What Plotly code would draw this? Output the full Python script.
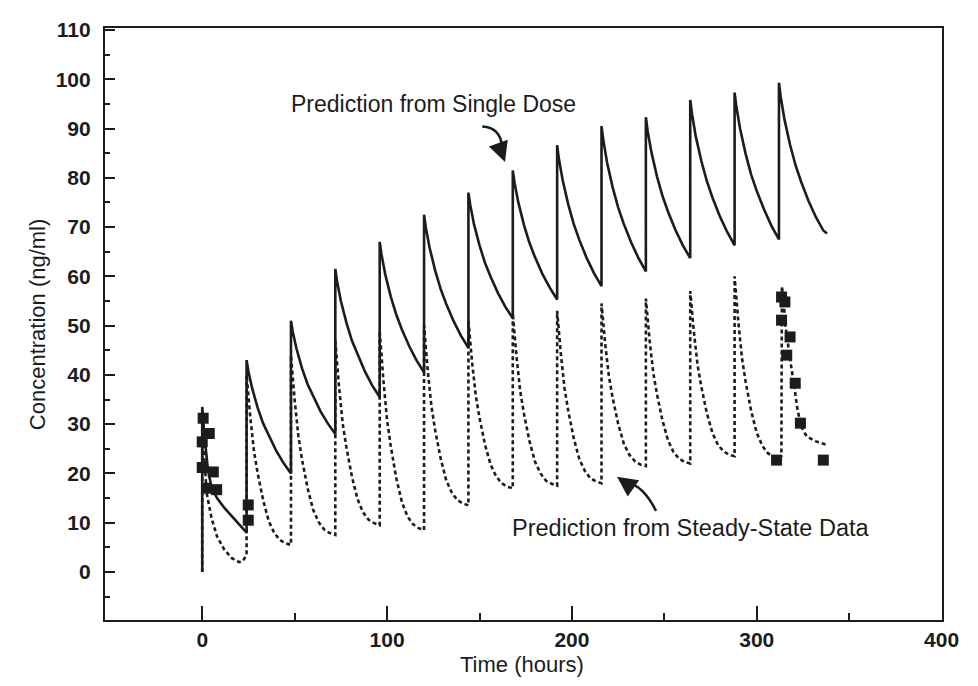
import plotly.graph_objects as go

# ---- data ----
# Prediction from Single Dose (solid)
sd_t = [0, 0, 1, 2, 3, 5, 8, 12, 16, 20,
        24, 24, 25, 27, 30, 33, 36, 40, 44,
        48, 48, 49, 51, 54, 57, 60, 64, 68,
        72, 72, 73, 75, 78, 81, 84, 88, 92,
        96, 96, 97, 99, 102, 105, 108, 112, 116,
        120, 120, 121, 123, 126, 129, 132, 136, 140,
        144, 144, 145, 147, 150, 153, 156, 160, 164,
        168, 168, 169, 171, 174, 177, 180, 184, 188,
        192, 192, 193, 195, 198, 201, 204, 208, 212,
        216, 216, 217, 219, 222, 225, 228, 232, 236,
        240, 240, 241, 243, 246, 249, 252, 256, 260,
        264, 264, 265, 267, 270, 273, 276, 280, 284,
        288, 288, 289, 291, 294, 297, 300, 304, 308,
        312, 312, 313, 315, 318, 321, 324, 328, 332, 336, 338]
sd_c = [0, 33.5, 28.5, 24, 21, 17.2, 15, 13, 11.3, 9.5,
        8, 43, 40.7, 37.3, 33.3, 30.1, 27.6, 24.6, 22.1,
        20, 51, 48.7, 45.3, 41.3, 38.1, 35.6, 32.6, 30.1,
        28, 61.5, 58.9, 55.0, 50.6, 46.9, 44.1, 40.7, 37.8,
        35.5, 67, 64.4, 60.4, 55.9, 52.2, 49.2, 45.8, 42.9,
        40.5, 72.5, 69.8, 65.8, 61.2, 57.4, 54.4, 50.9, 47.9,
        45.5, 77, 74.5, 70.6, 66.3, 62.7, 59.9, 56.6, 53.8,
        51.5, 81.5, 78.9, 75.0, 70.5, 66.8, 63.9, 60.5, 57.7,
        55.3, 86.6, 83.7, 79.5, 74.6, 70.6, 67.4, 63.7, 60.6,
        58, 90.5, 87.6, 83.1, 78.1, 74.0, 70.7, 66.9, 63.7,
        61, 92.3, 89.4, 85.2, 80.3, 76.3, 73.1, 69.4, 66.3,
        63.7, 95.8, 92.9, 88.4, 83.4, 79.3, 76.0, 72.2, 69.0,
        66.3, 97.3, 94.3, 89.9, 84.8, 80.6, 77.3, 73.5, 70.2,
        67.5, 99.3, 96.3, 91.8, 86.7, 82.5, 79.2, 75.3, 72.0, 69.3, 68.7]

# Prediction from Steady-State Data (dotted)
ss_t = [0, 0, 1, 2.4, 5, 8, 12, 16, 20, 22,
        24, 24, 26, 28, 30, 33, 36, 39, 42, 45,
        48, 48, 50, 52, 54, 57, 60, 63, 66, 69,
        72, 72, 74, 76, 78, 81, 84, 87, 90, 93,
        96, 96, 98, 100, 102, 105, 108, 111, 114, 117,
        120, 120, 122, 124, 126, 129, 132, 135, 138, 141,
        144, 144, 146, 148, 150, 153, 156, 159, 162, 165,
        168, 168, 170, 172, 174, 177, 180, 183, 186, 189,
        192, 192, 194, 196, 198, 201, 204, 207, 210, 213,
        216, 216, 218, 220, 222, 225, 228, 231, 234, 237,
        240, 240, 242, 244, 246, 249, 252, 255, 258, 261,
        264, 264, 266, 268, 270, 273, 276, 279, 282, 285,
        288, 288, 290, 292, 294, 297, 300, 303, 306, 309,
        312, 313.3, 313.6, 314.5, 315.5, 317, 318.5, 320.5, 322, 324, 327, 332, 338]
ss_c = [0, 30, 24, 16, 11, 7.2, 4.5, 2.8, 2.0, 2.2,
        3.5, 40, 31.4, 24.5, 20.0, 14.5, 10.3, 7.9, 6.5, 5.8,
        5.5, 44, 34.9, 27.6, 22.8, 17.0, 12.6, 10.1, 8.6, 7.9,
        7.5, 47, 37.6, 30.1, 25.3, 19.3, 14.8, 12.1, 10.6, 9.9,
        9.5, 49, 38.9, 30.8, 25.5, 19.0, 14.2, 11.3, 9.7, 8.9,
        8.5, 50, 40.9, 33.6, 28.8, 23.0, 18.6, 16.1, 14.6, 13.9,
        13.5, 51, 42.5, 35.7, 31.3, 25.8, 21.8, 19.4, 18.0, 17.3,
        17, 52.5, 43.8, 36.8, 32.2, 26.6, 22.4, 20.0, 18.5, 17.9,
        17.5, 53, 44.3, 37.3, 32.7, 27.1, 22.9, 20.5, 19.0, 18.4,
        18, 54.5, 46.3, 39.7, 35.4, 30.1, 26.1, 23.8, 22.5, 21.8,
        21.5, 55.5, 47.1, 40.4, 36.1, 30.7, 26.7, 24.3, 23.0, 22.3,
        22, 57, 48.6, 41.9, 37.6, 32.2, 28.2, 25.8, 24.5, 23.8,
        23.5, 60, 50.8, 43.4, 38.5, 32.6, 28.2, 25.6, 24.1, 23.4,
        23, 23.5, 58, 55, 50, 45.5, 42, 37, 33, 29.5, 27.5, 26.5, 25.8]

# Observed concentrations (squares)
obs_t = [0.5, 3.8, 0, 0, 6, 2.4, 7.8, 24.9, 24.9,
         310.7, 313.4, 315.2, 313.4, 318, 316.2, 320.8, 323.6, 336]
obs_c = [31.2, 28.1, 26.4, 21.2, 20.3, 17, 16.7, 13.6, 10.5,
         22.7, 55.8, 54.8, 51.1, 47.7, 44, 38.3, 30.2, 22.7]

x_ticks = [0, 100, 200, 300, 400]
y_ticks = list(range(0, 111, 10))

INK = "#1c1c1c"
FONT = "Liberation Sans, Arial, Helvetica, sans-serif"

fig = go.Figure()
fig.add_trace(go.Scatter(x=ss_t, y=ss_c, mode="lines",
                         line=dict(color=INK, width=2.6, dash="4px,3px"),
                         name="Prediction from Steady-State Data", showlegend=False))
fig.add_trace(go.Scatter(x=sd_t, y=sd_c, mode="lines",
                         line=dict(color=INK, width=2.6),
                         name="Prediction from Single Dose", showlegend=False))
fig.add_trace(go.Scatter(x=obs_t, y=obs_c, mode="markers",
                         marker=dict(symbol="square", size=11, color=INK),
                         name="Observed", showlegend=False))

fig.update_layout(
    width=978, height=686,
    margin=dict(l=105, r=36, t=28, b=66),
    paper_bgcolor="white", plot_bgcolor="white",
    font=dict(family=FONT, color=INK),
    xaxis=dict(range=[-52.6, 400.2], tickvals=x_ticks, ticks="inside", ticklen=14,
               tickwidth=1.5, tickcolor=INK, showgrid=False, zeroline=False,
               showline=True, linecolor=INK, linewidth=2.2, mirror=True,
               tickfont=dict(size=21, family=FONT, color=INK, weight="bold"),
               ticklabelstandoff=0,
               minor=dict(tickvals=[50, 150, 250, 350], ticks="inside", ticklen=7,
                          tickwidth=1.5, tickcolor=INK, showgrid=False)),
    yaxis=dict(range=[-9.75, 110.4], tickvals=y_ticks, ticks="inside", ticklen=10,
               tickwidth=2, tickcolor=INK, showgrid=False, zeroline=False,
               showline=True, linecolor=INK, linewidth=2.2, mirror=True,
               tickfont=dict(size=21, family=FONT, color=INK, weight="bold"),
               ticklabelstandoff=8,
               minor=dict(tickvals=[-5, 5, 15, 25, 35, 45, 55, 65, 75, 85, 95, 105],
                          ticks="inside", ticklen=5, tickwidth=2, tickcolor=INK,
                          showgrid=False)),
)

annotations = [
    dict(text="Time (hours)", xref="paper", yref="paper", x=0.498, y=-0.076,
         showarrow=False, font=dict(size=22, family=FONT, color=INK),
         xanchor="center", yanchor="middle"),
    dict(text="Concentration (ng/ml)", xref="paper", yref="paper", x=-0.081, y=0.5,
         textangle=-90, showarrow=False, font=dict(size=22, family=FONT, color=INK),
         xanchor="center", yanchor="middle"),
    dict(text="Prediction from Single Dose", x=125.3, y=95.0, xref="x", yref="y",
         showarrow=False, font=dict(size=23, family=FONT, color=INK),
         xanchor="center", yanchor="middle"),
    dict(text="Prediction from Steady-State Data", x=264.3, y=9.0, xref="x", yref="y",
         showarrow=False, font=dict(size=23.5, family=FONT, color=INK),
         xanchor="center", yanchor="middle"),
    # arrow heads
    dict(x=163.8, y=83.2, xref="x", yref="y", ax=-5, ay=-14, text="",
         showarrow=True, arrowhead=2, arrowsize=1.6, arrowwidth=2.5, arrowcolor=INK),
    dict(x=224.4, y=19.3, xref="x", yref="y", ax=10, ay=7, text="",
         showarrow=True, arrowhead=2, arrowsize=1.6, arrowwidth=2.5, arrowcolor=INK),
]
fig.update_layout(annotations=annotations)

# curved arrow shafts
fig.add_shape(type="path", xref="x", yref="y",
              path="M 151.5,90.4 Q 161.5,90.2 162.2,86.2",
              line=dict(color=INK, width=2.5))
fig.add_shape(type="path", xref="x", yref="y",
              path="M 245.5,12.4 Q 238.5,17.6 229.5,18.2",
              line=dict(color=INK, width=2.5))

fig.write_html("out.html")
